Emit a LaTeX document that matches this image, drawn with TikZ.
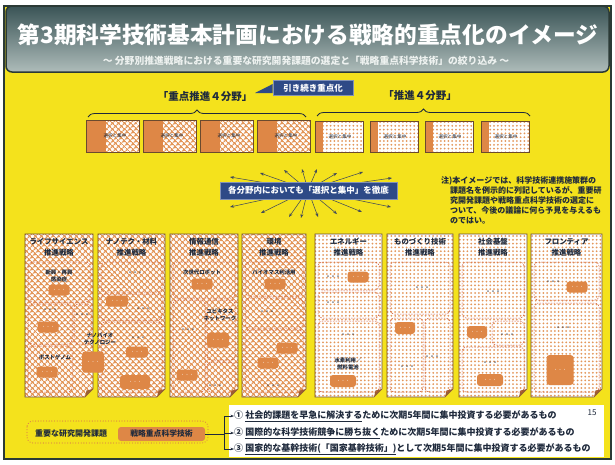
\documentclass[tikz,border=0pt]{standalone}
\usepackage{fontspec}
\setmainfont{Noto Sans CJK JP}
\usepackage{xcolor}
\usepackage{tikz}
\usetikzlibrary{arrows.meta,positioning,calc,patterns.meta,decorations.pathreplacing}
\definecolor{cYellow}{HTML}{F4E21C}
\definecolor{cNavy}{HTML}{2E4A87}
\definecolor{cOrange}{HTML}{DE8746}
\definecolor{cLat}{HTML}{E3975A}
\definecolor{cRed}{HTML}{CF5A3C}
\definecolor{cInk}{HTML}{1F2A3C}
\definecolor{cEdge}{HTML}{6B4A2E}
\definecolor{cFrame}{HTML}{2B3A36}
\definecolor{cHeadDk}{HTML}{3A5456}
\definecolor{cHeadMd}{HTML}{8A9C9A}
\definecolor{cHeadLt}{HTML}{AEBCBA}
\definecolor{cSub}{HTML}{EEF2F0}
\tikzset{
  lattice/.style={preaction={fill=white},pattern={Hatch[angle=45,distance=4pt,line width=1.3pt]},pattern color=cLat},
  dotfill/.style={preaction={fill=white},pattern={Dots[distance=3.8pt,radius=1pt]},pattern color=cLat},
  seltext/.style={font=\fontsize{4.6}{5}\selectfont,text=cInk,inner sep=0pt},
  navybox/.style={fill=cNavy,draw=cNavy!60!white,line width=0.6pt,text=white,font=\bfseries\fontsize{8.5}{10}\selectfont,inner sep=2pt},
  fieldhead/.style={font=\bfseries\fontsize{10.5}{12}\selectfont,text=cInk,inner sep=0pt},
  brace/.style={decorate,decoration={brace,amplitude=7pt},line width=0.8pt,draw=cInk},
  coltitle/.style={align=center,font=\bfseries\fontsize{7.4}{11}\selectfont,text=cInk,inner sep=0pt},
  zone/.style={draw=cRed,dash pattern=on 1.6pt off 1.2pt,line width=0.5pt,rounded corners=4pt},
  blob/.style={fill=cOrange,rounded corners=3pt,inner sep=0pt,text=white,font=\fontsize{4.5}{5}\selectfont},
  etc/.style={text=cInk,font=\bfseries\fontsize{5}{6}\selectfont,inner sep=0pt},
  tag/.style={align=center,text=cInk,font=\bfseries\fontsize{5.4}{7}\selectfont,inner sep=0pt},
  ray/.style={-{Stealth[length=4pt,width=3pt]},line width=0.55pt,draw=cInk!85},
  note/.style={align=left,font=\bfseries\fontsize{8}{10}\selectfont,text=cInk,inner sep=0pt},
  link/.style={line width=0.7pt,draw=cInk},
  linkarr/.style={link,-{Stealth[length=3.5pt]}},
  rowtext/.style={anchor=west,inner sep=0pt,text=cInk,font=\bfseries\fontsize{9}{11}\selectfont},
}

\begin{document}
\begin{tikzpicture}[x=1pt,y=-1pt]
  \fill[white] (0,0) rectangle (615,464);
  \useasboundingbox (0,0) rectangle (615,464);
  \fill[cYellow] (4,6) rectangle (611,459);
  \draw[cFrame,line width=2.5pt] (4,6) rectangle (611,459);
  \shade[top color=cHeadDk,middle color=cHeadMd,bottom color=cHeadLt,draw=cFrame,line width=1.5pt,rounded corners=6pt] (6,6) rectangle (609,72);
  \node[font=\bfseries\fontsize{22.7}{25}\selectfont,text=white,inner sep=0pt] (title) at (308,35) {第3期科学技術基本計画における戦略的重点化のイメージ};
  \node[font=\bfseries\fontsize{9.8}{11}\selectfont,text=cSub,inner sep=0pt] (subtitle) at (306,61) {～ 分野別推進戦略における重要な研究開発課題の選定と「戦略重点科学技術」の絞り込み ～};

  \node[fieldhead] (lead4) at (205,97) {「重点推進４分野」};
  \node[fieldhead] (push4) at (420,96) {「推進４分野」};
  \node[navybox,minimum width=80,minimum height=15] (keep) at (313,88) {引き続き重点化};
  \coordinate (keeptip) at (255,93);
  \fill[cNavy] ([yshift=4pt]keep.west) -- (keeptip) -- ([yshift=-5pt]keep.west) -- cycle;
  \draw[brace] (88,117) -- (306,117);
  \draw[brace] (317,116) -- (530,116);

  \foreach \x [count=\i] in {86,143,200,257}{
    \fill[cOrange] (\x,120) rectangle ++(20,32);
    \path[lattice] (\x+20,120) rectangle ++(33,32);
    \draw[cEdge,line width=0.6pt] (\x,120) rectangle ++(53,32);
    \node[seltext] (sa\i) at (\x+29,136) {選択と集中};
  }
  \foreach \x [count=\i] in {315,370,425,481}{
    \fill[cOrange] (\x,121) rectangle ++(8,31);
    \path[dotfill] (\x+8,121) rectangle ++(40,31);
    \draw[cEdge,line width=0.6pt] (\x,121) rectangle ++(48,31);
    \node[seltext] (sb\i) at (\x+25,137) {選択と集中};
  }

  \coordinate (burstc) at (308,190);
  \foreach \tx/\ty [count=\i] in {230/177,260/173,284/170,302/169,317/169,337/173,363/172,392/178,230/207,261/213,289/217,301/218,318/217,337/214,362/212,391/207}{
    \coordinate (tip\i) at (\tx,\ty);
    \draw[ray] (burstc) -- (tip\i);
  }
  \node[navybox,minimum width=177,minimum height=17] (burst) at (308.5,190.5) {各分野内においても「選択と集中」を徹底};

  \node[note,anchor=north west] (caveat) at (441,176) {注)本イメージでは、科学技術連携施策群の\\\hspace*{1.1em}課題名を例示的に列記しているが、重要研\\\hspace*{1.1em}究開発課題や戦略重点科学技術の選定に\\\hspace*{1.1em}ついて、今後の議論に何ら予見を与えるも\\\hspace*{1.1em}のではい。};

  \foreach \x/\w/\kind/\ta/\tb [count=\i] in {25/68/lattice/ライフサイエンス/推進戦略,98/67/lattice/ナノテク・材料/推進戦略,170/68/lattice/情報通信/推進戦略,242/64/lattice/環境/推進戦略,315/67/dotfill/エネルギー/推進戦略,387/66/dotfill/ものづくり技術/推進戦略,459/68/dotfill/社会基盤/推進戦略,531/71/dotfill/フロンティア/推進戦略}{
    \path[\kind,draw=cEdge,line width=0.6pt] (\x,234) -- ++(\w,0) -- ++(0,155) -- ++(-8,8) -- (\x,397) -- cycle;
    \fill[cOrange!70!black] (\x+\w,389) -- ++(-8,8) -- ++(1.5,-6.5) -- cycle;
    \node[coltitle] (col\i) at (\x+\w/2,247) {\ta\\\tb};
  }
  \foreach \a/\b/\c/\d in {28/262/90/302,28/304/72/344,74/304/91/344,28/346/72/392,101/262/162/292,101/294/162/320,101/322/162/392,173/262/235/298,173/300/205/392,207/300/235/360,207/362/235/392,245/262/303/296,245/298/303/328,245/330/303/392,318/262/379/290,318/292/379/318,318/321/379/392,390/262/450/314,390/318/423/392,425/318/450/392,462/262/524/318,492/321/524/345,462/347/524/392,534/262/599/300,534/303/599/392}
    \draw[zone] (\a,\b) rectangle (\c,\d);
  \foreach \bx/\by/\bw/\bh [count=\i] in {59/290/21/11,48/327/21/11,47/372/21/11,93/362/22/21,117/301/22/11,137/352/22/11,135/382/30/14,202/284/21/11,218/340/22/15,187/375/21/11,275/284/21/11,287/348/21/11,268/363/21/11,358/277/21/11,343/381/26/12,405/328/20/12,477/332/20/12,490/380/26/12,577/287/21/11,560/370/27/30}
    \node[blob,minimum width=\bw,minimum height=\bh] (b\i) at (\bx,\by) {・・・};
  \foreach \ex/\ey [count=\i] in {50/310,82/315,135/273,143/309,138/338,188/330,215/386,267/312,273/386,333/277,333/303,348/335,422/288,432/357,407/367,493/292,507/335,490/363,553/282,563/328}
    \node[etc] (e\i) at (\ex,\ey) {・・・};
  \node[tag] (infect) at (59,276) {新興・再興\\感染症};
  \node[tag] (genome) at (55,357) {ポストゲノム};
  \node[tag] (nanobio) at (100,339) {ナノバイオ\\テクノロジー};
  \node[tag] (robot) at (202,272) {次世代ロボット};
  \node[tag] (ubiq) at (220,315) {ユビキタス\\ネットワーク};
  \node[tag] (biomass) at (274,272) {バイオマス利活用};
  \node[tag] (hydro) at (348,364) {水素利用／\\燃料電池};

  \fill[white] (229,405) rectangle (604,457);
  \draw[cOrange,line width=1.2pt,dash pattern=on 0.1pt off 2.6pt,line cap=round,rounded corners=6pt] (27,421) rectangle (208,443);
  \node[font=\bfseries\fontsize{8}{10}\selectfont,text=cInk,inner sep=0pt] (imp) at (71,433) {重要な研究開発課題};
  \node[fill=cOrange,rounded corners=3pt,minimum width=87,minimum height=14,inner sep=0pt,text=cInk,font=\bfseries\fontsize{7.8}{9}\selectfont] (core) at (161.5,434) {戦略重点科学技術};
  \node[rowtext] (r1) at (234,416) {①\ \underline{社会的課題を早急に解決する}ために次期5年間に集中投資する必要があるもの};
  \node[rowtext] (r2) at (234,433) {②\ \underline{国際的な科学技術競争に勝ち抜く}ために次期5年間に集中投資する必要があるもの};
  \node[rowtext] (r3) at (234,449) {③\ \underline{国家的な基幹技術(「国家基幹技術」)}として次期5年間に集中投資する必要があるもの};
  \node[font=\fontsize{8}{10}\selectfont,text=cInk,inner sep=0pt] (pageno) at (592,413) {15};
  \coordinate (fork) at (224,434);
  \draw[link] (core.east) -- (fork);
  \draw[link] (fork |- r1.west) -- (fork |- r3.west);
  \foreach \r in {r1,r2,r3}
    \draw[linkarr] (fork |- \r.west) -- (\r.west);
\end{tikzpicture}
\end{document}
